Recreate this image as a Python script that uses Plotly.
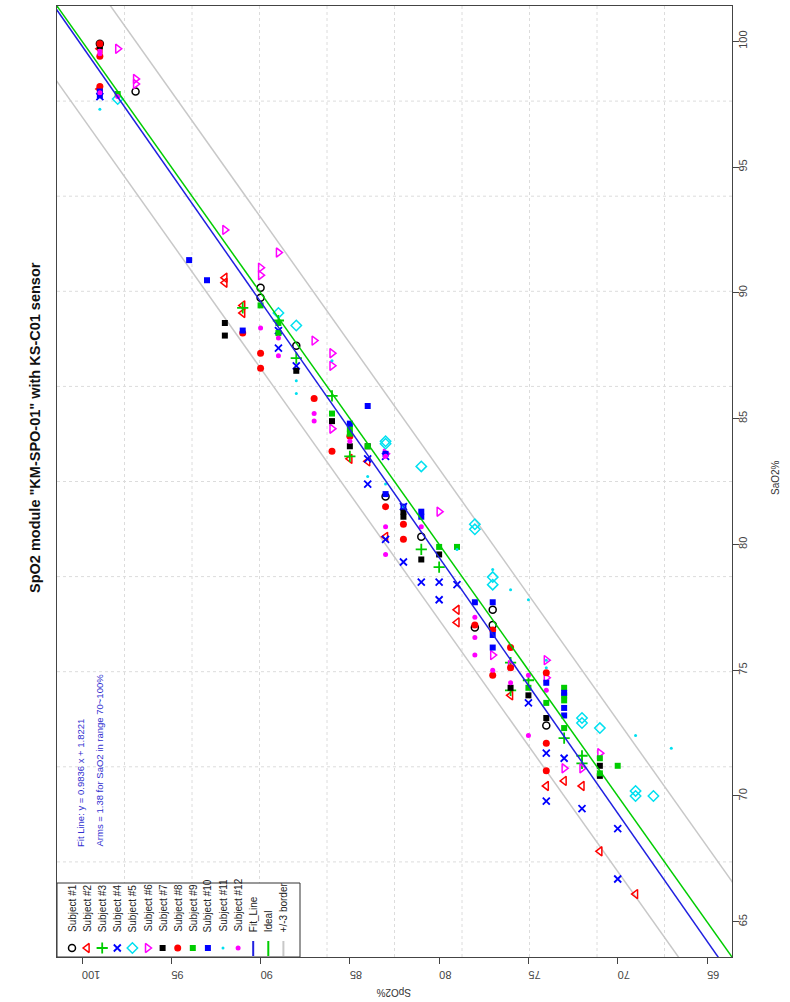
import plotly.graph_objects as go
import numpy as np

# ---------------- data (SaO2 %, SpO2 %) ----------------
subject_names = ["Subject #1", "Subject #2", "Subject #3", "Subject #4", "Subject #5", "Subject #6",
                 "Subject #7", "Subject #8", "Subject #9", "Subject #10", "Subject #11", "Subject #12"]

sao2_s1 = [99.9, 98.0, 90.2, 89.8, 87.9, 81.9, 80.3, 77.4, 76.7, 76.8, 72.8]
spo2_s1 = [99, 97, 90, 90, 88, 83, 81, 77, 78, 77, 74]

sao2_s2 = [99.7, 98.1, 90.6, 90.4, 89.5, 89.2, 83.4, 83.3, 80.3, 77.4, 76.9, 74.0, 70.6, 70.4, 70.4, 67.8, 66.1]
spo2_s2 = [99, 99, 92, 92, 91, 91, 85, 84, 83, 79, 79, 76, 73, 72, 74, 71, 69]

sao2_s3 = [89.4, 88.9, 87.4, 85.9, 83.5, 79.8, 79.1, 75.3, 74.2, 74.6, 72.3, 71.6, 71.3]
spo2_s3 = [91, 89, 88, 86, 85, 81, 80, 76, 76, 75, 73, 72, 72]

sao2_s4 = [97.8, 88.5, 87.8, 87.1, 83.4, 82.4, 83.5, 81.5, 80.2, 79.3, 78.5, 78.5, 77.8, 78.4, 73.7, 71.7, 71.5, 69.8, 69.5, 68.7, 66.7]
spo2_s4 = [99, 89, 89, 88, 84, 84, 83, 82, 83, 82, 81, 80, 80, 79, 75, 74, 73, 74, 72, 70, 70]

sao2_s5 = [97.7, 89.2, 88.7, 84.1, 84.0, 83.1, 80.8, 80.6, 78.7, 78.4, 73.1, 72.9, 72.7, 70.2, 70.0, 70.0]
spo2_s5 = [98, 89, 88, 83, 83, 81, 78, 78, 77, 77, 72, 72, 71, 69, 69, 68]

sao2_s6 = [99.7, 98.5, 98.3, 92.5, 91.6, 91.0, 90.7, 88.1, 87.6, 87.1, 84.6, 83.6, 81.3, 75.6, 75.2, 75.4, 74.7, 71.7, 71.1, 71.1]
spo2_s6 = [98, 97, 97, 92, 89, 90, 90, 87, 86, 86, 86, 83, 80, 77, 76, 74, 74, 71, 73, 72]

sao2_s7 = [99.8, 88.8, 88.3, 86.9, 84.9, 83.9, 83.9, 81.3, 81.1, 79.4, 79.6, 74.3, 74.0, 73.1, 71.2, 70.8]
spo2_s7 = [99, 92, 92, 88, 86, 85, 84, 82, 82, 81, 80, 76, 75, 74, 71, 71]

sao2_s8 = [99.9, 99.4, 98.2, 88.4, 87.6, 87.0, 85.8, 83.7, 84.3, 81.5, 80.8, 80.2, 76.8, 76.6, 75.9, 74.8, 75.1, 74.9, 72.1, 71.0]
spo2_s8 = [99, 99, 99, 91, 90, 90, 87, 86, 85, 83, 82, 82, 78, 77, 76, 77, 76, 74, 74, 74]

sao2_s9 = [97.9, 89.5, 88.8, 88.4, 85.2, 84.6, 84.4, 83.9, 79.9, 79.9, 74.3, 73.7, 74.3, 74.0, 73.8, 72.7, 71.5, 71.2, 70.9]
spo2_s9 = [98, 90, 89, 89, 86, 85, 85, 84, 80, 79, 75, 74, 73, 73, 73, 73, 71, 70, 71]

sao2_s10 = [98.0, 97.85, 91.3, 90.5, 88.5, 85.5, 84.8, 83.6, 82.0, 81.5, 81.3, 81.1, 77.7, 77.7, 76.4, 75.9, 74.5, 74.1, 73.5, 73.2]
spo2_s10 = [99, 99, 94, 93, 91, 84, 85, 83, 83, 82, 81, 81, 78, 77, 77, 77, 74, 73, 73, 73]

sao2_s11 = [97.3, 86.5, 86.0, 87.3, 82.7, 82.4, 81.5, 79.8, 79.0, 78.2, 77.8, 75.4, 75.1, 72.4, 71.9]
spo2_s11 = [99, 88, 88, 86, 84, 83, 82, 79, 77, 76, 75, 74, 74, 69, 67]

sao2_s12 = [99.6, 99.5, 97.95, 97.8, 88.6, 88.2, 87.5, 85.2, 84.9, 84.1, 83.5, 80.7, 79.6, 80.7, 77.1, 76.3, 75.6, 75.0, 74.5, 74.8, 74.2, 72.4]
spo2_s12 = [99, 99, 99, 98, 90, 89, 89, 87, 87, 85, 83, 83, 83, 81, 78, 78, 78, 77, 76, 75, 74, 75]

sao2_all = [sao2_s1, sao2_s2, sao2_s3, sao2_s4, sao2_s5, sao2_s6,
            sao2_s7, sao2_s8, sao2_s9, sao2_s10, sao2_s11, sao2_s12]
spo2_all = [spo2_s1, spo2_s2, spo2_s3, spo2_s4, spo2_s5, spo2_s6,
            spo2_s7, spo2_s8, spo2_s9, spo2_s10, spo2_s11, spo2_s12]

fit_slope = 0.9836
fit_intercept = 1.8221
border_offset = 3
axis_lim = [65, 100]
tick_values = [65, 70, 75, 80, 85, 90, 95, 100]

title_text = 'SpO2 module "KM-SPO-01" with KS-C01 sensor'
note_line1 = "Fit Line: y = 0.9836 x + 1.8221"
note_line2 = "Arms = 1.38 for SaO2 in range 70~100%"
extra_legend = ["Fit_Line", "Ideal", "+/-3 border"]

# ---------------- styles / layout ----------------
W, H = 790, 1002
PL, PR, PT, PB = 57, 732, 6, 957   # plot box in pixels
ext = (axis_lim[1] - axis_lim[0]) * 0.04
lo, hi = axis_lim[0] - ext, axis_lim[1] + ext

GREEN = "#00CD00"
CYAN = "#00E0F0"
BLUE_LINE = "#2020E0"
GREY_LINE = "#C8C8C8"
styles = [
    ("circle-open", "black", 7, 1.5),
    ("triangle-left-open", "red", 8, 1.5),
    ("cross-thin-open", GREEN, 8, 1.8),
    ("x-thin-open", "blue", 7, 1.8),
    ("diamond-open", CYAN, 8, 1.5),
    ("triangle-right-open", "magenta", 8, 1.5),
    ("square", "black", 6, 0),
    ("circle", "red", 7, 0),
    ("square", GREEN, 6, 0),
    ("square", "blue", 6, 0),
    ("circle", CYAN, 3, 0),
    ("circle", "magenta", 5, 0),
]
FONT = "Liberation Sans, Arial, sans-serif"


def pxx(px):
    return (px - PL) / (PR - PL)


def pxy(py):
    return (PB - py) / (PB - PT)


fig = go.Figure()

# reference lines
sa = np.array([lo - 5, hi + 5])
fig.add_trace(go.Scatter(x=sa + border_offset, y=sa, mode="lines",
                         line=dict(color=GREY_LINE, width=1.5), showlegend=False, hoverinfo="skip"))
fig.add_trace(go.Scatter(x=sa - border_offset, y=sa, mode="lines",
                         line=dict(color=GREY_LINE, width=1.5), showlegend=False, hoverinfo="skip"))

# data points
for i in range(12):
    sym, col, size, lw = styles[i]
    fig.add_trace(go.Scatter(
        x=spo2_all[i], y=sao2_all[i], mode="markers", name=subject_names[i],
        marker=dict(symbol=sym, color=col, size=size, line=dict(color=col, width=lw)),
        showlegend=False))

fig.add_trace(go.Scatter(x=sa, y=sa, mode="lines",
                         line=dict(color=GREEN, width=1.5), showlegend=False, hoverinfo="skip"))
fig.add_trace(go.Scatter(x=fit_slope * sa + fit_intercept, y=sa, mode="lines",
                         line=dict(color=BLUE_LINE, width=1.5), showlegend=False, hoverinfo="skip"))

shapes = []
# grid (R grid(): 10 equal divisions)
for k in range(1, 10):
    shapes.append(dict(type="line", xref="paper", yref="paper", x0=k / 10, x1=k / 10, y0=0, y1=1,
                       line=dict(color="#DCDCDC", width=1, dash="dot"), layer="below"))
    shapes.append(dict(type="line", xref="paper", yref="paper", y0=k / 10, y1=k / 10, x0=0, x1=1,
                       line=dict(color="#DCDCDC", width=1, dash="dot"), layer="below"))

# legend box
LEG_X0, LEG_X1, LEG_Y0, LEG_Y1 = 57, 300, 883, 957
shapes.append(dict(type="rect", xref="paper", yref="paper", x0=pxx(LEG_X0), x1=pxx(LEG_X1),
                   y0=pxy(LEG_Y1), y1=pxy(LEG_Y0), fillcolor="white",
                   line=dict(color="#333", width=1), layer="below"))

annotations = []
leg_cx = [72 + 15.1 * i for i in range(15)]
leg_labels = subject_names + extra_legend
for i, lab in enumerate(leg_labels):
    annotations.append(dict(x=pxx(leg_cx[i]), y=pxy(933), xref="paper", yref="paper", text=lab,
                            textangle=-90, showarrow=False, xanchor="center", yanchor="bottom",
                            borderpad=0, font=dict(family=FONT, size=10, color="#222")))

# legend symbols via pixel-space overlay axes
for i in range(12):
    sym, col, size, lw = styles[i]
    fig.add_trace(go.Scatter(x=[leg_cx[i]], y=[948], xaxis="x2", yaxis="y2", mode="markers",
                             marker=dict(symbol=sym, color=col, size=size, line=dict(color=col, width=lw)),
                             showlegend=False, hoverinfo="skip"))
line_cols = [BLUE_LINE, GREEN, GREY_LINE]
for j in range(3):
    cx = leg_cx[12 + j]
    shapes.append(dict(type="line", xref="paper", yref="paper", x0=pxx(cx), x1=pxx(cx),
                       y0=pxy(956), y1=pxy(941), line=dict(color=line_cols[j], width=2)))

# note text
annotations.append(dict(x=pxx(80), y=pxy(848), xref="paper", yref="paper", text=note_line1,
                        textangle=-90, showarrow=False, xanchor="center", yanchor="bottom", borderpad=0,
                        font=dict(family=FONT, size=9.5, color="#3030D0")))
annotations.append(dict(x=pxx(99), y=pxy(848), xref="paper", yref="paper", text=note_line2,
                        textangle=-90, showarrow=False, xanchor="center", yanchor="bottom", borderpad=0,
                        font=dict(family=FONT, size=9.5, color="#3030D0")))

# title and axis titles
annotations.append(dict(x=pxx(35), y=pxy(428), xref="paper", yref="paper", text="<b>" + title_text + "</b>",
                        textangle=-90, showarrow=False, xanchor="center", yanchor="middle",
                        font=dict(family=FONT, size=14.5, color="#111")))
annotations.append(dict(x=pxx(775), y=pxy(477), xref="paper", yref="paper", text="SaO2%",
                        textangle=-90, showarrow=False, xanchor="center", yanchor="middle",
                        font=dict(family=FONT, size=10, color="#333")))
annotations.append(dict(x=pxx(394), y=pxy(993), xref="paper", yref="paper", text="SpO2%",
                        textangle=180, showarrow=False, xanchor="center", yanchor="middle",
                        font=dict(family=FONT, size=10, color="#333")))

fig.update_layout(
    width=W, height=H,
    margin=dict(l=PL, r=W - PR, t=PT, b=H - PB, pad=0),
    paper_bgcolor="white", plot_bgcolor="white",
    showlegend=False, hovermode=False,
    shapes=shapes, annotations=annotations,
    xaxis=dict(range=[hi, lo], tickvals=tick_values, ticks="outside", ticklen=6, tickcolor="#444",
               tickangle=180, showline=True, mirror=True, linecolor="#444", linewidth=1,
               ticklabelstandoff=5,
               showgrid=False, zeroline=False, tickfont=dict(family=FONT, size=11, color="#444")),
    yaxis=dict(range=[lo, hi], side="right", tickvals=tick_values, ticks="outside", ticklen=6,
               tickcolor="#444", tickangle=-90, showline=True, mirror=True, linecolor="#444",
               linewidth=1, showgrid=False, zeroline=False, ticklabelstandoff=-5,
               tickfont=dict(family=FONT, size=11, color="#444")),
    xaxis2=dict(range=[PL, PR], overlaying="x", visible=False),
    yaxis2=dict(range=[PB, PT], overlaying="y", visible=False),
)

fig.write_html("out.html", config={"displayModeBar": False},
               post_script="document.body.style.margin='0px';document.body.style.padding='0px';")
